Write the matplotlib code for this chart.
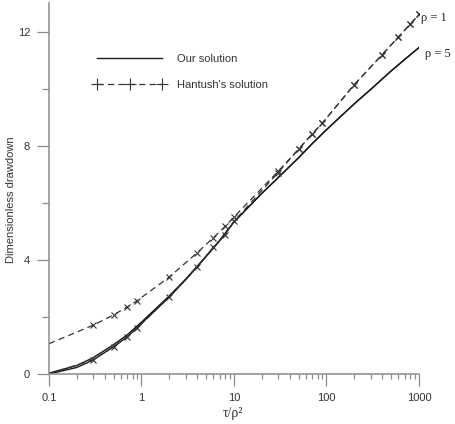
import matplotlib
matplotlib.use('Agg')
import matplotlib.pyplot as plt
from matplotlib.lines import Line2D
from matplotlib.ticker import FixedLocator, NullFormatter

plt.rcParams['font.family'] = ['Liberation Sans', 'DejaVu Sans']
plt.rcParams['lines.scale_dashes'] = False

# our solution (solid), two nearly coincident curves
tau_ours = [0.1, 0.2, 0.3, 0.5, 0.7, 1, 2, 3, 5, 7, 10, 20, 30, 50, 70, 100, 200, 300, 500, 700, 1000]
ours_rho1 = [0.03, 0.30, 0.57, 1.03, 1.37, 1.82, 2.74, 3.32, 4.13, 4.68, 5.33, 6.33, 6.88, 7.58, 8.07, 8.56, 9.47, 9.97, 10.62, 11.02, 11.44]
ours_rho5 = [0.0, 0.23, 0.49, 0.96, 1.30, 1.77, 2.70, 3.30, 4.12, 4.67, 5.33, 6.33, 6.88, 7.58, 8.07, 8.56, 9.47, 9.97, 10.62, 11.02, 11.44]

# Hantush's solution (dashed + markers)
tau_hantush = [0.1, 0.3, 0.5, 0.7, 0.9, 2, 4, 6, 8, 10, 30, 50, 70, 90, 200, 400, 600, 800, 1000]
hantush_rho1 = [1.06, 1.71, 2.07, 2.35, 2.57, 3.40, 4.25, 4.78, 5.17, 5.50, 7.10, 7.88, 8.41, 8.79, 10.14, 11.19, 11.81, 12.25, 12.60]
hantush_rho5 = [0.0, 0.50, 0.95, 1.30, 1.61, 2.70, 3.75, 4.44, 4.88, 5.35, 7.06, 7.88, 8.41, 8.79, 10.14, 11.19, 11.81, 12.25, 12.60]

spine_col = '#8c8c8c'
text_col = '#333333'

fig = plt.figure(figsize=(4.56, 4.24), dpi=100)
ax = fig.add_axes([49 / 456, 1 - 374 / 424, 370 / 456, 371 / 424])

ax.plot(tau_ours, ours_rho1, color='#1a1a1a', lw=1.0)
ax.plot(tau_ours, ours_rho5, color='#1a1a1a', lw=1.0)
for vals in (hantush_rho1, hantush_rho5):
    ax.plot(tau_hantush, vals, color='#333333', lw=0.9, dashes=(4.5, 3),
            marker='x', ms=5, mew=0.8, markevery=list(range(1, len(tau_hantush))))

ax.set_xscale('log')
ax.set_xlim(0.1, 1000)
ax.set_ylim(0, 13)

ax.set_xticks([0.1, 1, 10, 100, 1000])
ax.set_xticklabels(['0.1', '1', '10', '100', '1000'])
ax.xaxis.set_minor_locator(FixedLocator([m * 10.0 ** e for e in range(-1, 3) for m in range(2, 10)]))
ax.xaxis.set_minor_formatter(NullFormatter())
ax.set_yticks([0, 4, 8, 12])
ax.set_yticks([2, 6, 10], minor=True)

for s in ('top', 'right'):
    ax.spines[s].set_visible(False)
for s in ('left', 'bottom'):
    ax.spines[s].set_color(spine_col)
    ax.spines[s].set_linewidth(1.1)

ax.tick_params(which='major', direction='out', length=8.5, width=0.9, color=spine_col,
               labelsize=8, labelcolor=text_col, pad=5)
ax.tick_params(axis='x', which='minor', direction='out', length=3.6, width=0.9, color=spine_col)
ax.tick_params(axis='y', which='minor', direction='out', length=5, width=0.9, color=spine_col)

ax.set_ylabel('Dimensionless drawdown', fontsize=8, color=text_col)
ax.yaxis.set_label_coords(-0.09, 0.469)
ax.set_xlabel('τ/ρ²', fontsize=10, color=text_col, family=['Liberation Serif', 'DejaVu Serif'])
ax.xaxis.set_label_coords(0.497, -0.09)

ax.text(1050, 12.49, 'ρ = 1', fontsize=9, va='center', ha='left', color='#222',
        family=['Liberation Serif', 'DejaVu Serif'], clip_on=False)
ax.text(1160, 11.23, 'ρ = 5', fontsize=9, va='center', ha='left', color='#222',
        family=['Liberation Serif', 'DejaVu Serif'], clip_on=False)

handles = [
    Line2D([], [], color='#1a1a1a', lw=1.0),
    Line2D([], [], color='#333333', lw=0.9, dashes=(4.5, 3), marker='+', ms=8, mew=0.8),
]
ax.legend(handles, ['Our solution', "Hantush's solution"], loc='upper left',
          bbox_to_anchor=(94 / 456, 1 - 54 / 424), bbox_transform=fig.transFigure,
          frameon=False, fontsize=8, handlelength=6.4, handletextpad=1.1,
          labelspacing=1.45, borderpad=0, borderaxespad=0, numpoints=3,
          labelcolor=text_col)

fig.savefig('out.png', dpi=100)
